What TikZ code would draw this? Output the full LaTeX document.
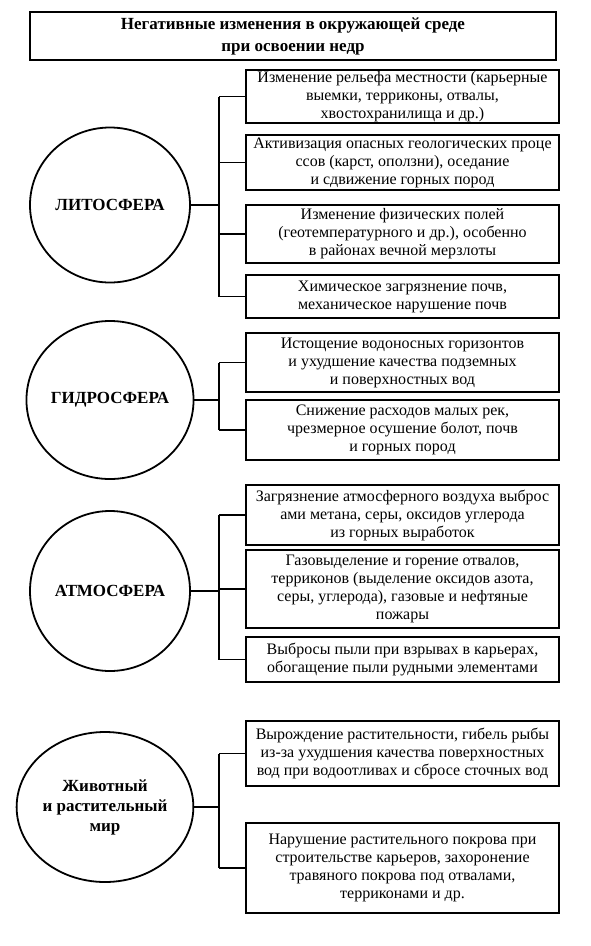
\documentclass[tikz,border=0pt]{standalone}
\usepackage{fontspec}
\setmainfont{Liberation Serif}
\usetikzlibrary{shapes.geometric}

\tikzset{
  effect/.style = {shape=rectangle, draw, line width=1.8pt, align=center,
                   minimum width=313pt, inner sep=1pt,
                   font=\fontsize{16}{18}\selectfont},
  header/.style = {effect, minimum width=526pt,
                   font=\fontsize{17}{22}\selectfont\bfseries},
  sphere/.style = {shape=ellipse, draw, line width=1.8pt, align=center,
                   inner sep=0pt, font=\fontsize{17}{20}\selectfont\bfseries},
  link/.style   = {draw, line width=1.8pt}
}

\begin{document}
\begin{tikzpicture}
[
x=1pt, y=-1pt
  ]
\useasboundingbox (0,0) rectangle (591,946);
\coordinate (bus) at (219,0);

\node[header, minimum height=48pt] (title) at (293,36)
  {Негативные изменения в окружающей среде\\при освоении недр};

\node[sphere, minimum width=160pt, minimum height=155pt] (lito) at (110,205) {ЛИТОСФЕРА};
\node[effect, minimum height=53pt] (lito1) at (402.5,96.5)
  {Изменение рельефа местности (карьерные\\выемки, терриконы, отвалы,\\хвостохранилища и др.)};
\node[effect, minimum height=55pt] (lito2) at (402.5,162.5)
  {Активизация опасных геологических проце\\ссов (карст, оползни), оседание\\и сдвижение горных пород};
\node[effect, minimum height=58pt] (lito3) at (402.5,234)
  {Изменение физических полей\\(геотемпературного и др.), особенно\\в районах вечной мерзлоты};
\node[effect, minimum height=43pt] (lito4) at (402.5,296.5)
  {Химическое загрязнение почв,\\механическое нарушение почв};

\node[sphere, minimum width=160pt, minimum height=158pt] (gidro) at (110,400) {ГИДРОСФЕРА};
\node[effect, minimum height=59pt] (gidro1) at (402.5,362.5)
  {Истощение водоносных горизонтов\\и ухудшение качества подземных\\и поверхностных вод};
\node[effect, minimum height=60pt] (gidro2) at (402.5,430)
  {Снижение расходов малых рек,\\чрезмерное осушение болот, почв\\и горных пород};

\node[sphere, minimum width=160pt, minimum height=160pt] (atmo) at (110,591) {АТМОСФЕРА};
\node[effect, minimum height=60pt] (atmo1) at (402.5,515)
  {Загрязнение атмосферного воздуха выброс\\ами метана, серы, оксидов углерода\\из горных выработок};
\node[effect, minimum height=78pt] (atmo2) at (402.5,589)
  {Газовыделение и горение отвалов,\\терриконов (выделение оксидов азота,\\серы, углерода), газовые и нефтяные\\пожары};
\node[effect, minimum height=45pt] (atmo3) at (402.5,659.5)
  {Выбросы пыли при взрывах в карьерах,\\обогащение пыли рудными элементами};

\node[sphere, minimum width=157pt, minimum height=150pt] (bio) at (105,807)
  {Животный\\и растительный\\мир};
\node[effect, minimum height=65pt] (bio1) at (402.5,753.5)
  {Вырождение растительности, гибель рыбы\\из-за ухудшения качества поверхностных\\вод при водоотливах и сбросе сточных вод};
\node[effect, minimum height=90pt] (bio2) at (402.5,868)
  {Нарушение растительного покрова при\\строительстве карьеров, захоронение\\травяного покрова под отвалами,\\терриконами и др.};

\foreach \s/\first/\last in {lito/lito1/lito4, gidro/gidro1/gidro2, atmo/atmo1/atmo3, bio/bio1/bio2}
  {
  \draw[link] (\s.east) -- (\s.east -| bus);
  \draw[link] (bus |- \first) -- (bus |- \last);
  }
\foreach \b in {lito1,lito2,lito3,lito4,gidro1,gidro2,atmo1,atmo2,atmo3,bio1,bio2}
  \draw[link] (bus |- \b) -- (\b.west);
\end{tikzpicture}
\end{document}
